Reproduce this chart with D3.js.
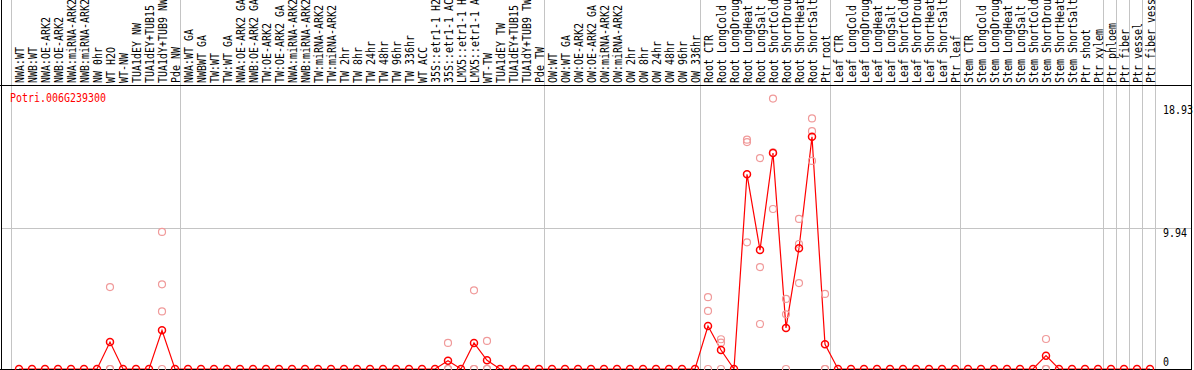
<!DOCTYPE html>
<html>
<head>
<meta charset="utf-8">
<script src="https://cdn.jsdelivr.net/npm/d3@7"></script>
<style>
  body { margin: 0; background: #fff; }
  svg { display: block; }
  text { font-family: "DejaVu Sans Mono", "Liberation Mono", monospace; font-size: 12px; }
</style>
</head>
<body>
<div id="chart"></div>
<script>
// sample labels, one per column
const sampleLabels = [
  "NWA:WT", "NWB:WT", "NWA:OE-ARK2", "NWB:OE-ARK2", "NWA:miRNA-ARK2", "NWB:miRNA-ARK2",
  "NW 0hr", "WT H2O", "WT-NW", "TUA1dEY NW", "TUA1dEY+TUB15", "TUA1dY+TUB9 NW", "Pde NW",
  "NWA:WT GA", "NWBWT GA", "TW:WT", "TW:WT GA", "NWA:OE-ARK2 GA", "NWB:OE-ARK2 GA",
  "TW:OE-ARK2", "TW:OE-ARK2 GA", "NWA:miRNA-ARK2", "NWB:miRNA-ARK2", "TW:miRNA-ARK2", "TW:miRNA-ARK2",
  "TW 2hr", "TW 8hr", "TW 24hr", "TW 48hr", "TW 96hr", "TW 336hr", "WT ACC",
  "35S::etr1-1 H2O", "35S::etr1-1 ACC", "LMX5::etr1-1 H2O", "LMX5::etr1-1 ACC",
  "WT-TW", "TUA1dEY TW", "TUA1dEY+TUB15", "TUA1dY+TUB9 TW", "Pde TW",
  "OW:WT", "OW:WT GA", "OW:OE-ARK2", "OW:OE-ARK2 GA", "OW:miRNA-ARK2", "OW:miRNA-ARK2",
  "OW 2hr", "OW 8hr", "OW 24hr", "OW 48hr", "OW 96hr", "OW 336hr",
  "Root CTR", "Root LongCold", "Root LongDrought", "Root LongHeat", "Root LongSalt",
  "Root ShortCold", "Root ShortDrought", "Root ShortHeat", "Root ShortSalt", "Ptr root",
  "Leaf CTR", "Leaf LongCold", "Leaf LongDrought", "Leaf LongHeat", "Leaf LongSalt",
  "Leaf ShortCold", "Leaf ShortDrought", "Leaf ShortHeat", "Leaf ShortSalt", "Ptr leaf",
  "Stem CTR", "Stem LongCold", "Stem LongDrought", "Stem LongHeat", "Stem LongSalt",
  "Stem ShortCold", "Stem ShortDrought", "Stem ShortHeat", "Stem ShortSalt", "Ptr shoot",
  "Ptr xylem", "Ptr phloem", "Ptr fiber", "Ptr vessel", "Ptr fiber vessel"
];

// mean expression per column
const meanValues = [
  0, 0, 0, 0, 0, 0, 0, 1.9, 0, 0, 0, 2.73, 0,
  0, 0, 0, 0, 0, 0, 0, 0, 0, 0, 0, 0, 0, 0, 0, 0, 0, 0, 0, 0, 0.59, 0, 1.84, 0.61, 0, 0, 0, 0,
  0, 0, 0, 0, 0, 0, 0, 0, 0, 0, 0, 0,
  3.04, 1.34, 0, 13.75, 8.4, 15.26, 2.9, 8.53, 16.4, 1.74,
  0, 0, 0, 0, 0, 0, 0, 0, 0, 0,
  0, 0, 0, 0, 0, 0, 0.94, 0, 0, 0,
  0, 0, 0, 0, 0
];

// replicate values [column, values] (columns not listed are all zero)
const replicateValues = [
  [7, [5.79, 0, 0]],
  [11, [9.68, 5.98, 4.07, 0]],
  [33, [1.84, 0, 0]],
  [35, [5.56, 0, 0]],
  [36, [1.98, 0, 0]],
  [53, [5.07, 4.1, 0]],
  [54, [2.1, 1.86, 0]],
  [56, [16.2, 16.03, 8.95]],
  [57, [14.9, 7.2, 3.18]],
  [58, [19.1, 15.3, 11.3]],
  [59, [4.95, 3.86, 0]],
  [60, [10.6, 8.83, 6.07]],
  [61, [17.7, 16.8, 14.7]],
  [62, [5.3, 0, 0]],
  [79, [2.12, 0, 0]]
];

// last column of each group (-1 = line before first column)
const groupEnds = [-1, 12, 40, 52, 62, 72, 83, 84, 85, 86, 87];

const yTicks = [0, 9.94, 18.93];
const geneName = "Potri.006G239300";

const width = 1194, height = 370;
const labelBottom = 85;   // black line under the sample names
const plotBottom = 369;
const rightEdge = 1191;
const charW = 6;          // narrow fixed-width look

const svg = d3.select("#chart").append("svg")
  .attr("width", width)
  .attr("height", height);

// scales
const x = d3.scaleLinear()
  .domain([0, sampleLabels.length - 1])
  .range([19, 1150]);

const y = d3.scaleLinear()
  .domain([0, 18.93])
  .range([plotBottom, 101]);

const crisp = v => Math.round(v) + 0.5;

// squeeze text to the fixed 6px cell
function fitText(sel) {
  sel.attr("textLength", d => String(d).length * charW)
    .attr("lengthAdjust", "spacingAndGlyphs");
}

// vertical group separators
svg.append("g")
  .selectAll("line")
  .data(groupEnds)
  .enter()
  .append("line")
  .attr("x1", d => crisp(x(d) + 5))
  .attr("x2", d => crisp(x(d) + 5))
  .attr("y1", 0)
  .attr("y2", plotBottom)
  .attr("stroke", "#c4c4c4")
  .attr("stroke-width", 1);

// horizontal grid lines (not at 0 or the top value)
svg.append("g")
  .selectAll("line")
  .data(yTicks.filter(d => d > 0 && d < 18))
  .enter()
  .append("line")
  .attr("x1", 1)
  .attr("x2", rightEdge)
  .attr("y1", d => crisp(y(d)))
  .attr("y2", d => crisp(y(d)))
  .attr("stroke", "#c4c4c4")
  .attr("stroke-width", 1);

// sample names, rotated
svg.append("g")
  .selectAll("text")
  .data(sampleLabels)
  .enter()
  .append("text")
  .attr("transform", (d, i) => `translate(${x(i) + 4.5},${labelBottom - 2}) rotate(-90)`)
  .attr("fill", "#000")
  .call(fitText)
  .text(d => d);

// mean line
const line = d3.line()
  .x((d, i) => x(i))
  .y(d => y(d));

svg.append("path")
  .datum(meanValues)
  .attr("fill", "none")
  .attr("stroke", "#ff0000")
  .attr("stroke-width", 1.2)
  .attr("d", line);

// frame lines
svg.append("line")
  .attr("x1", 0).attr("x2", rightEdge)
  .attr("y1", labelBottom + 0.5).attr("y2", labelBottom + 0.5)
  .attr("stroke", "#000");
svg.append("line")
  .attr("x1", 0).attr("x2", rightEdge)
  .attr("y1", plotBottom + 0.5).attr("y2", plotBottom + 0.5)
  .attr("stroke", "#000");
svg.append("line")
  .attr("x1", 1.5).attr("x2", 1.5)
  .attr("y1", 0).attr("y2", height)
  .attr("stroke", "#000");
svg.append("line")
  .attr("x1", rightEdge + 0.5).attr("x2", rightEdge + 0.5)
  .attr("y1", 0).attr("y2", height)
  .attr("stroke", "#000");

// replicate points
let repPoints = [];
replicateValues.forEach(([col, vals]) => {
  vals.forEach(v => repPoints.push({ col: col, value: v }));
});

svg.append("g")
  .selectAll("circle")
  .data(repPoints)
  .enter()
  .append("circle")
  .attr("cx", d => x(d.col))
  .attr("cy", d => y(d.value))
  .attr("r", 3.5)
  .attr("fill", "none")
  .attr("stroke", "#f09a9a")
  .attr("stroke-width", 1.2);

// mean points
svg.append("g")
  .selectAll("circle")
  .data(meanValues)
  .enter()
  .append("circle")
  .attr("cx", (d, i) => x(i))
  .attr("cy", d => y(d))
  .attr("r", 3.5)
  .attr("fill", "none")
  .attr("stroke", "#ff0000")
  .attr("stroke-width", 1.5);

// gene name
svg.append("text")
  .datum(geneName)
  .attr("x", 10)
  .attr("y", 102)
  .attr("fill", "#ff0000")
  .call(fitText)
  .text(d => d);

// y tick labels on the right
svg.append("g")
  .selectAll("text")
  .data(yTicks)
  .enter()
  .append("text")
  .attr("x", 1163)
  .attr("y", d => {
    if (d === 0) return y(d) - 3;
    if (d === yTicks[yTicks.length - 1]) return y(d) + 13;
    return y(d) + 9;
  })
  .attr("fill", "#000")
  .call(fitText)
  .text(d => d);
</script>
</body>
</html>
